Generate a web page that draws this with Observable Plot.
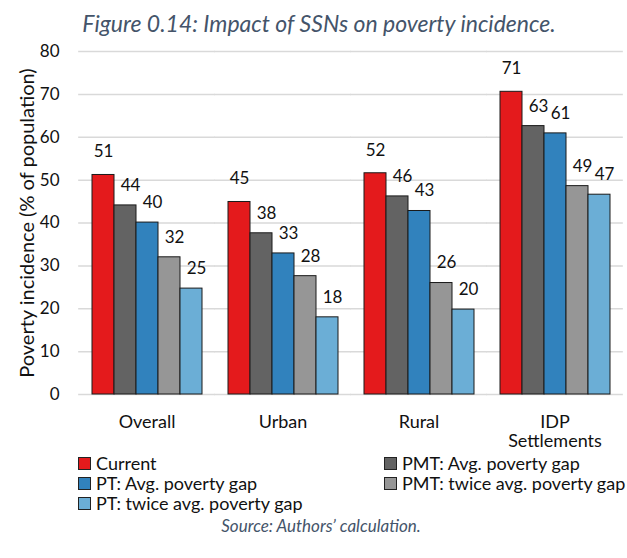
<!DOCTYPE html>
<html>
<head>
<meta charset="utf-8">
<script src="https://cdn.jsdelivr.net/npm/d3@7"></script>
<script src="https://cdn.jsdelivr.net/npm/@observablehq/plot@0.6"></script>
<style>
  body { margin: 0; background: #fff; font-family: Lato, "Open Sans", sans-serif; }
  #wrap { position: relative; width: 627px; height: 558px; overflow: hidden; }
  #title { position: absolute; left: 0; top: 8px; width: 638px; text-align: center; font-style: italic; font-size: 23px; color: #44546a; line-height: 30px; }
  #chart { position: absolute; left: 0; top: 40px; }
  #legend { position: absolute; left: 78px; top: 453px; width: 549px; display: grid; grid-template-columns: 306px 243px; grid-auto-rows: 20px; font-size: 18px; color: #111; }
  .item { display: flex; align-items: center; white-space: nowrap; }
  .sw { width: 11px; height: 11px; border: 1px solid #222; margin-right: 5px; flex: none; }
  #caption { position: absolute; left: 0; top: 513px; width: 642px; text-align: center; font-style: italic; font-size: 17px; color: #44546a; line-height: 26px; }
</style>
</head>
<body>
<div id="wrap">
  <div id="title">Figure 0.14: Impact of SSNs on poverty incidence.</div>
  <div id="chart"></div>
  <div id="legend"></div>
  <div id="caption">Source: Authors’ calculation.</div>
</div>
<script>
const categories = ["Overall", "Urban", "Rural", "IDP\nSettlements"];
const seriesNames = ["Current", "PMT: Avg. poverty gap", "PT: Avg. poverty gap", "PMT: twice avg. poverty gap", "PT: twice avg. poverty gap"];
const current  = [51.2, 44.9, 51.6, 70.6];
const pmtAvg   = [44.1, 37.6, 46.2, 62.6];
const ptAvg    = [40.1, 32.9, 42.8, 60.9];
const pmtTwice = [32.0, 27.6, 26.0, 48.6];
const ptTwice  = [24.7, 18.0, 19.8, 46.6];
const yTicks = [0, 10, 20, 30, 40, 50, 60, 70, 80];
const colors = ["#e41a1c", "#636363", "#3182bd", "#969696", "#6baed6"];

const seriesValues = [current, pmtAvg, ptAvg, pmtTwice, ptTwice];
const data = [];
categories.forEach((c, i) => {
  seriesNames.forEach((s, j) => data.push({category: c, series: s, value: seriesValues[j][i]}));
});

const gapHalf = 544 / 4 / 12; // half of the gap between facet bands

const chart = Plot.plot({
  width: 627,
  height: 412,
  marginTop: 11,
  marginBottom: 58,
  marginLeft: 78,
  marginRight: 4.5,
  style: {fontFamily: "Lato, 'Open Sans', sans-serif", color: "#111", background: "#fff"},
  fx: {domain: categories, paddingInner: 1/6, paddingOuter: 1/12, label: null},
  x: {domain: seriesNames, padding: 0, axis: null},
  y: {domain: [0, 80]},
  color: {domain: seriesNames, range: colors},
  marks: [
    Plot.ruleY(yTicks, {stroke: "#d9d9d9", strokeWidth: 1.5, insetLeft: -gapHalf - 0.5, insetRight: -gapHalf - 0.5}),
    Plot.axisY(yTicks, {tickSize: 0, tickPadding: 31, fontSize: 17, label: null}),
    Plot.axisY({tickSize: 0, ticks: [], fontSize: 20, label: "Poverty incidence (% of population)", labelAnchor: "center", labelOffset: 71, labelArrow: "none"}),
    Plot.axisFx({anchor: "bottom", tickSize: 0, tickPadding: 19, fontSize: 18, lineHeight: 1.1, label: null}),
    Plot.barY(data, {fx: "category", x: "series", y: "value", fill: "series", stroke: "#1a1a1a", strokeWidth: 1}),
    Plot.text(data, {filter: d => d.series === "Current", fx: "category", x: "series", y: "value", text: d => String(Math.round(d.value)), dy: -23, fontSize: 17, fill: "#111"}),
    Plot.text(data, {filter: d => d.series !== "Current", fx: "category", x: "series", y: "value", text: d => String(Math.round(d.value)), dy: -20, dx: 5, fontSize: 17, fill: "#111"})
  ]
});
document.getElementById("chart").appendChild(chart);

const legend = document.getElementById("legend");
seriesNames.forEach((s, j) => {
  const item = document.createElement("div");
  item.className = "item";
  const sw = document.createElement("span");
  sw.className = "sw";
  sw.style.background = colors[j];
  const t = document.createElement("span");
  t.textContent = s;
  item.appendChild(sw);
  item.appendChild(t);
  legend.appendChild(item);
});
</script>
</body>
</html>
